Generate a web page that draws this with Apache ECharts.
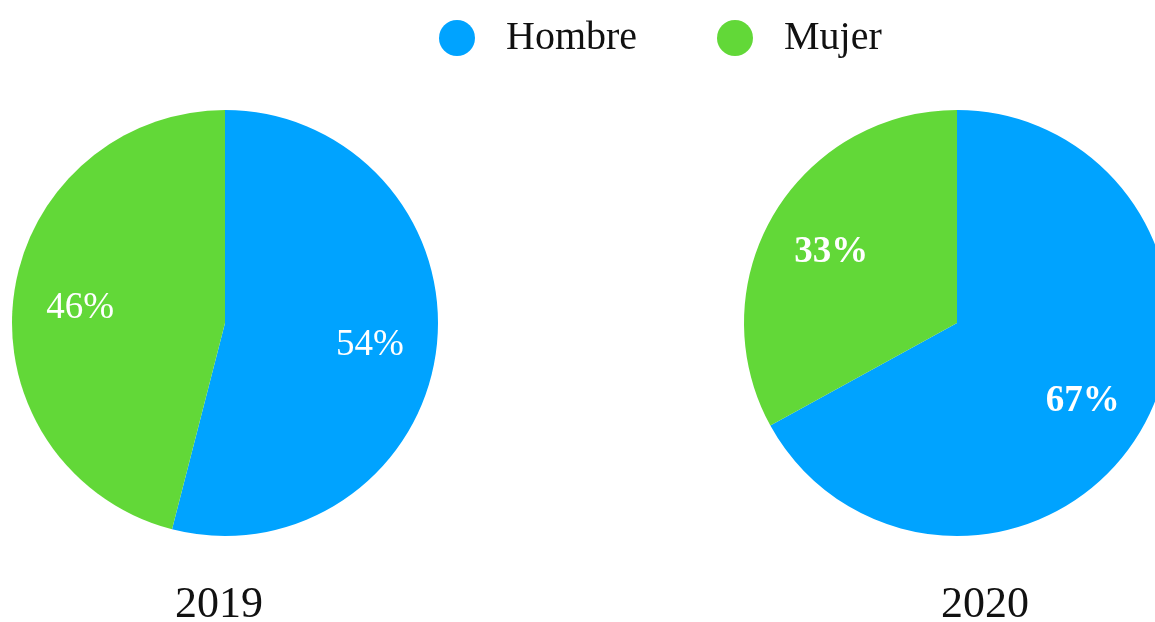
<!DOCTYPE html>
<html>
<head>
<meta charset="utf-8">
<script src="https://cdn.jsdelivr.net/npm/echarts@6/dist/echarts.min.js"></script>
<style>
html,body{margin:0;padding:0;background:#fff;}
#chart{width:1155px;height:622px;}
</style>
</head>
<body>
<div id="chart"></div>
<script>
var categories = ['Hombre', 'Mujer'];
var colors = ['#00A3FF', '#62D838'];
var years = ['2019', '2020'];
var values2019 = [54, 46];
var values2020 = [67, 33];

var FONT = '"Liberation Serif", "DejaVu Serif", serif';
var chart = echarts.init(document.getElementById('chart'));

function mkData(vals, transparent) {
  return categories.map(function (c, i) {
    return { name: c, value: vals[i], itemStyle: { color: transparent ? 'rgba(0,0,0,0)' : colors[i] } };
  });
}

function pieSeries(vals, cx, bold) {
  return [
    {
      type: 'pie', center: [cx, 323], radius: [0, 213], startAngle: 90, clockwise: true,
      silent: true, animation: false, label: { show: false }, labelLine: { show: false },
      itemStyle: { borderWidth: 0 },
      data: mkData(vals, false)
    },
    {
      type: 'pie', center: [cx, 323], radius: [73, 213], startAngle: 90, clockwise: true,
      silent: true, animation: false, legendHoverLink: false,
      itemStyle: { borderWidth: 0 },
      label: {
        show: true, position: 'inside', formatter: '{c}%', color: '#fff',
        fontFamily: FONT, fontSize: 37, fontWeight: bold ? 'bold' : 'normal',
        offset: [0, 4]
      },
      labelLine: { show: false },
      data: mkData(vals, true)
    }
  ];
}

var legendBase = {
  top: 13, icon: 'circle', itemWidth: 36, itemHeight: 36, selectedMode: false,
  textStyle: { fontFamily: FONT, fontSize: 40, color: '#111', padding: [0, 0, 0, 26] }
};

chart.setOption({
  backgroundColor: '#fff',
  animation: false,
  title: [
    { text: years[0], left: 214, top: 578, textAlign: 'center',
      textStyle: { fontFamily: FONT, fontSize: 44, fontWeight: 'normal', color: '#111' } },
    { text: years[1], left: 980, top: 578, textAlign: 'center',
      textStyle: { fontFamily: FONT, fontSize: 44, fontWeight: 'normal', color: '#111' } }
  ],
  legend: [
    Object.assign({}, legendBase, { left: 434, data: [categories[0]] }),
    Object.assign({}, legendBase, { left: 712, data: [categories[1]] })
  ],
  series: pieSeries(values2019, 225, false).concat(pieSeries(values2020, 957, true))
});
</script>
</body>
</html>
